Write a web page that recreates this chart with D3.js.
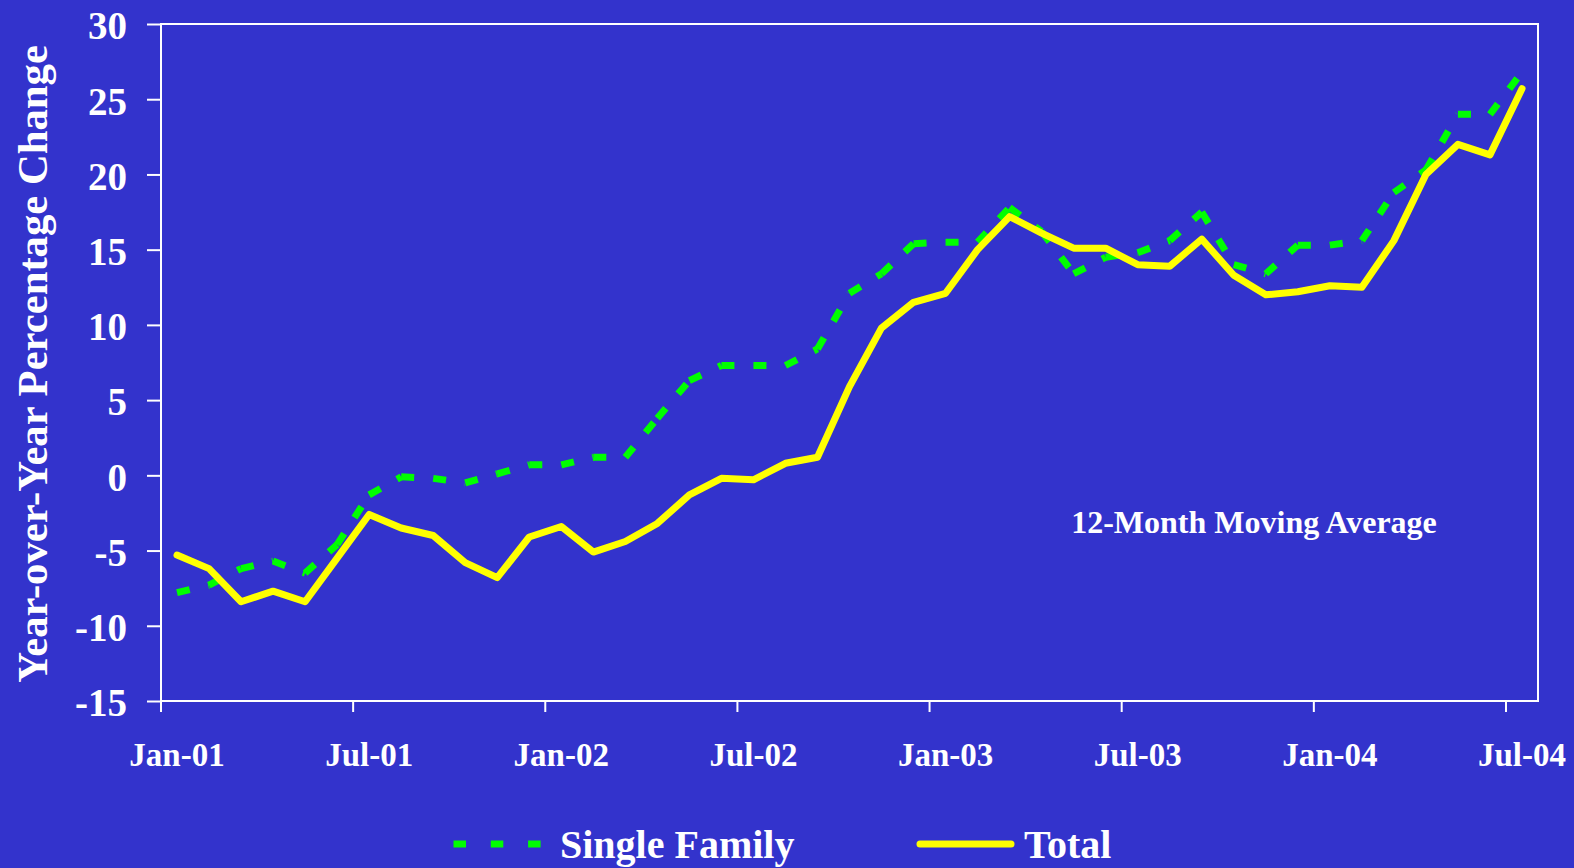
<!DOCTYPE html>
<html><head><meta charset="utf-8">
<script src="https://cdn.jsdelivr.net/npm/d3@7"></script>
<style>html,body{margin:0;padding:0;background:#3333CC;overflow:hidden}</style>
</head><body><svg id="c" width="1574" height="868"></svg>
<script>
const months = ["Jan-01","Feb-01","Mar-01","Apr-01","May-01","Jun-01","Jul-01","Aug-01","Sep-01","Oct-01","Nov-01","Dec-01",
  "Jan-02","Feb-02","Mar-02","Apr-02","May-02","Jun-02","Jul-02","Aug-02","Sep-02","Oct-02","Nov-02","Dec-02",
  "Jan-03","Feb-03","Mar-03","Apr-03","May-03","Jun-03","Jul-03","Aug-03","Sep-03","Oct-03","Nov-03","Dec-03",
  "Jan-04","Feb-04","Mar-04","Apr-04","May-04","Jun-04","Jul-04"];
const singleFamily = [-7.8,-7.3,-6.2,-5.7,-6.5,-4.6,-1.3,-0.1,-0.2,-0.5,0.1,0.7,
  0.7,1.2,1.2,3.8,6.3,7.3,7.3,7.3,8.4,12.1,13.4,15.4,
  15.5,15.5,17.8,16.2,13.4,14.5,14.8,15.6,17.5,14.0,13.4,15.3,
  15.3,15.6,18.8,20.3,24.0,24.0,26.8];
const total = [-5.3,-6.2,-8.4,-7.7,-8.4,-5.5,-2.6,-3.5,-4.0,-5.8,-6.8,-4.1,
  -3.4,-5.1,-4.4,-3.2,-1.3,-0.2,-0.3,0.8,1.2,5.9,9.8,11.5,
  12.1,15.0,17.2,16.1,15.1,15.1,14.0,13.9,15.7,13.3,12.0,12.2,
  12.6,12.5,15.6,20.0,22.0,21.3,25.7];
const tickLabels = ["Jan-01","Jul-01","Jan-02","Jul-02","Jan-03","Jul-03","Jan-04","Jul-04"];
const yTicks = [-15,-10,-5,0,5,10,15,20,25,30];
const seriesNames = ["Single Family","Total"];
const yTitle = "Year-over-Year Percentage Change";
const note = "12-Month Moving Average";

const W = 1574, H = 868;
const font = "'Liberation Serif','Times New Roman',serif";
const BG = "#3333CC", GREEN = "#00FF00", YELLOW = "#FFFF00";
const svg = d3.select("#c");
svg.append("rect").attr("width", W).attr("height", H).attr("fill", BG);

const L = 161, R = 1538, T = 24, B = 701;
const x = d3.scaleBand().domain(months).range([L, R]).padding(0);
const y = d3.scaleLinear().domain([-15, 30]).range([B, T]);
const cx = m => x(m) + x.bandwidth() / 2;

// Y axis
const gy = svg.append("g").attr("transform", `translate(${L},0)`)
  .call(d3.axisLeft(y).tickValues(yTicks).tickSize(14).tickSizeOuter(0).tickPadding(20).tickFormat(d => String(d)));
gy.select(".domain").remove();
gy.selectAll(".tick line").attr("stroke", "#fff").attr("stroke-width", 2);
gy.selectAll(".tick text").attr("fill", "#fff").attr("font-family", font).attr("font-weight", "bold")
  .attr("font-size", 39).attr("dy", "0.38em");

// X axis
const gx = svg.append("g").attr("transform", `translate(0,${B})`)
  .call(d3.axisBottom(x).tickValues(tickLabels).tickSize(11).tickSizeOuter(0).tickPadding(0));
gx.select(".domain").remove();
gx.selectAll(".tick line").attr("stroke", "#fff").attr("stroke-width", 2)
  .attr("transform", `translate(${-x.bandwidth() / 2},0)`);
gx.selectAll(".tick text").attr("fill", "#fff").attr("font-family", font).attr("font-weight", "bold")
  .attr("font-size", 33).attr("y", 65).attr("dy", 0);

// Frame
svg.append("rect").attr("x", L).attr("y", T).attr("width", R - L).attr("height", B - T)
  .attr("fill", "none").attr("stroke", "#fff").attr("stroke-width", 2);

// Lines
const line = d3.line().x(d => cx(d.m)).y(d => y(d.v));
const sf = months.map((m, i) => ({ m, v: singleFamily[i] }));
const tot = months.map((m, i) => ({ m, v: total[i] }));

svg.append("g").selectAll("path").data(d3.pairs(sf)).join("path")
  .attr("d", d => line(d)).attr("fill", "none").attr("stroke", GREEN)
  .attr("stroke-width", 7).attr("stroke-dasharray", "13,19").attr("stroke-linecap", "butt");

svg.append("path").datum(tot).attr("d", line).attr("fill", "none").attr("stroke", YELLOW)
  .attr("stroke-width", 7).attr("stroke-linejoin", "round").attr("stroke-linecap", "round");

// Y title
svg.append("text").attr("transform", "translate(47,364) rotate(-90)")
  .attr("text-anchor", "middle").attr("fill", "#fff").attr("font-family", font)
  .attr("font-weight", "bold").attr("font-size", 42.7).text(yTitle);

// Annotation
svg.append("text").attr("x", 1254).attr("y", 533).attr("text-anchor", "middle")
  .attr("fill", "#fff").attr("font-family", font).attr("font-weight", "bold")
  .attr("font-size", 32).text(note);

// Legend
const lg = svg.append("g");
lg.append("line").attr("x1", 453.5).attr("x2", 541).attr("y1", 844).attr("y2", 844)
  .attr("stroke", GREEN).attr("stroke-width", 7).attr("stroke-dasharray", "12.5,24.8");
lg.append("text").attr("x", 560).attr("y", 858).attr("fill", "#fff").attr("font-family", font)
  .attr("font-weight", "bold").attr("font-size", 40).text(seriesNames[0]);
lg.append("line").attr("x1", 920).attr("x2", 1011).attr("y1", 844).attr("y2", 844)
  .attr("stroke", YELLOW).attr("stroke-width", 7).attr("stroke-linecap", "round");
lg.append("text").attr("x", 1024).attr("y", 858).attr("fill", "#fff").attr("font-family", font)
  .attr("font-weight", "bold").attr("font-size", 40).text(seriesNames[1]);
</script>
</body></html>
